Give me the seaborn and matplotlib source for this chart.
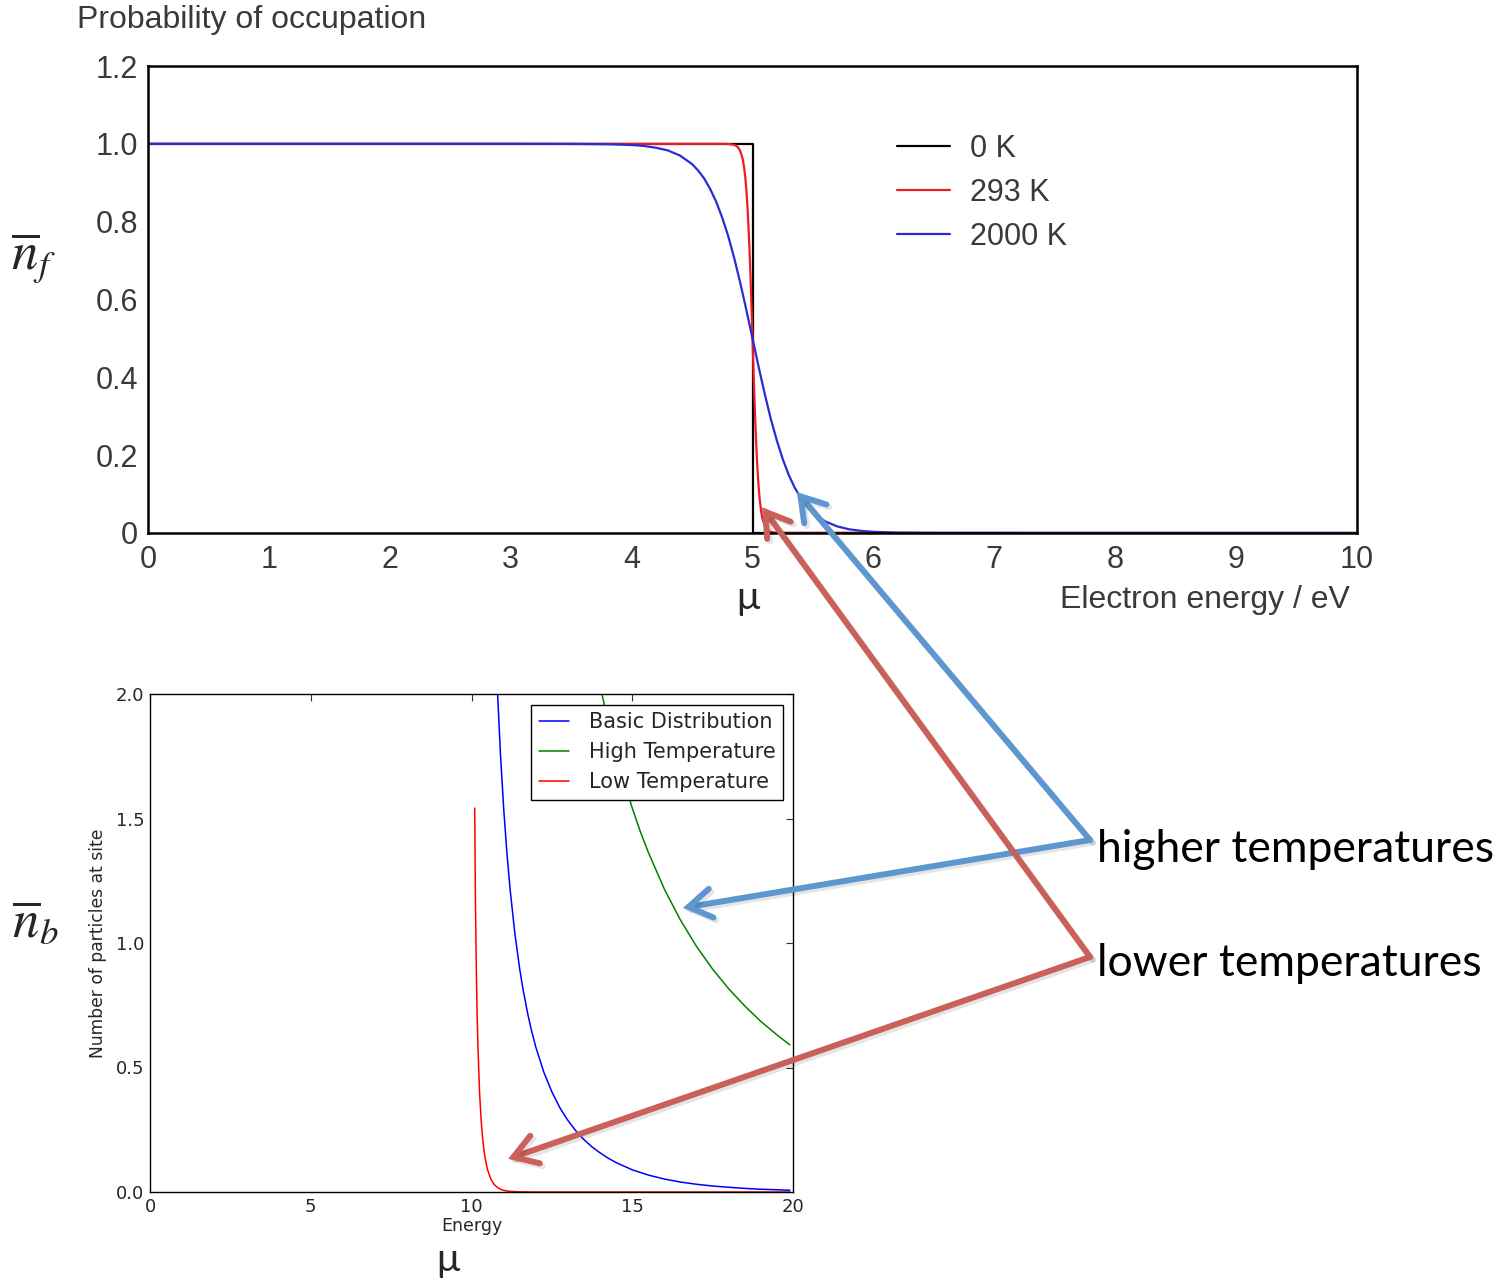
import seaborn as sns
import matplotlib.pyplot as plt
import matplotlib.patheffects as pe

# ---------------------------------------------------------------------------
# Data
# ---------------------------------------------------------------------------
# top panel: Fermi-Dirac occupation vs electron energy (eV)
energy_0k = [0, 5, 5, 10]
occ_0k = [1, 1, 0, 0]

energy_293k = [0, 4.75, 4.8, 4.85, 4.88, 4.9, 4.92, 4.93, 4.94, 4.95, 4.96,
               4.97, 4.975, 4.98, 4.985, 4.99, 4.995, 5.0, 5.005, 5.01, 5.015,
               5.02, 5.025, 5.03, 5.04, 5.05, 5.06, 5.07, 5.08, 5.1, 5.12,
               5.15, 5.2, 10]
occ_293k = [1, 0.99995, 0.9996, 0.9974, 0.9914, 0.981, 0.9596, 0.941, 0.915,
            0.879, 0.830, 0.766, 0.729, 0.688, 0.644, 0.598, 0.549, 0.5, 0.451,
            0.402, 0.356, 0.312, 0.271, 0.234, 0.170, 0.121, 0.085, 0.059,
            0.040, 0.019, 0.0086, 0.0026, 0.0004, 0]

energy_2000k = [0, 3.0, 3.5, 3.8, 4.0, 4.1, 4.2, 4.3, 4.4, 4.5, 4.55, 4.6, 4.65,
                4.7, 4.75, 4.8, 4.85, 4.9, 4.95, 5.0, 5.05, 5.1, 5.15, 5.2,
                5.25, 5.3, 5.35, 5.4, 5.45, 5.5, 5.6, 5.7, 5.8, 5.9, 6.0, 6.2,
                6.5, 10]
occ_2000k = [1, 0.99999, 0.9998, 0.999, 0.997, 0.9946, 0.990, 0.9831, 0.970,
             0.948, 0.9316, 0.911, 0.884, 0.851, 0.810, 0.762, 0.705, 0.641,
             0.572, 0.5, 0.428, 0.359, 0.295, 0.239, 0.190, 0.149, 0.116,
             0.090, 0.068, 0.052, 0.030, 0.017, 0.0095, 0.0054, 0.003, 0.001,
             0.0002, 0]

top_labels = ['0 K', '293 K', '2000 K']

# bottom panel: Bose-Einstein occupation vs energy
energy_basic = [10.6, 10.7, 10.8, 10.9, 11.0, 11.1, 11.2, 11.35, 11.5, 11.6,
                11.75, 11.85, 12, 12.25, 12.5, 12.75, 13, 13.25, 13.5, 13.75,
                14, 14.25, 14.5, 15, 15.5, 15.75, 16, 16.25, 16.5, 17, 17.5,
                18, 18.5, 19, 19.9]
n_basic = [2.858, 2.386, 2.033, 1.760, 1.542, 1.364, 1.216, 1.037, 0.895,
           0.816, 0.715, 0.657, 0.582, 0.481, 0.402, 0.338, 0.287, 0.245,
           0.210, 0.181, 0.157, 0.136, 0.118, 0.089, 0.068, 0.060, 0.052,
           0.046, 0.040, 0.031, 0.024, 0.019, 0.0145, 0.011, 0.0072]

energy_high = [13.8, 14.0, 14.25, 14.5, 14.75, 15, 15.25, 15.5, 16, 16.5, 17,
               17.5, 18, 18.5, 19, 19.5, 19.9]
n_high = [2.163, 2.033, 1.888, 1.759, 1.645, 1.542, 1.448, 1.364, 1.216, 1.092,
          0.986, 0.895, 0.816, 0.747, 0.685, 0.631, 0.591]

energy_low = [10.1, 10.11, 10.12, 10.13, 10.15, 10.175, 10.2, 10.25, 10.3,
              10.35, 10.4, 10.45, 10.5, 10.6, 10.7, 10.8, 10.9, 11.0, 11.1,
              11.2, 11.5, 12, 19.9]
n_low = [1.542, 1.364, 1.199, 1.092, 0.895, 0.715, 0.582, 0.402, 0.287, 0.210,
         0.157, 0.118, 0.089, 0.052, 0.031, 0.019, 0.011, 0.0068, 0.0041,
         0.0025, 0.0006, 0.00005, 0]

bottom_labels = ['Basic Distribution', 'High Temperature', 'Low Temperature']

# ---------------------------------------------------------------------------
sns.set_style('white')
plt.rcParams['font.family'] = ['Liberation Sans', 'DejaVu Sans']
plt.rcParams['mathtext.fontset'] = 'stix'

W, H = 1508, 1282
fig = plt.figure(figsize=(W / 100, H / 100), dpi=100)
fig.patch.set_facecolor('white')

gray = '#3a3a3a'
top_fs = 22

# ---------------------------------------------------------------------------
# Top panel
# ---------------------------------------------------------------------------
ax1 = fig.add_axes([148 / W, 1 - 533 / H, 1209 / W, 467 / H])
sns.lineplot(x=energy_0k, y=occ_0k, ax=ax1, color='black', lw=1.6,
             label=top_labels[0], estimator=None, sort=False)
sns.lineplot(x=energy_293k, y=occ_293k, ax=ax1, color='#ee1c24', lw=1.6,
             label=top_labels[1], estimator=None, sort=False)
sns.lineplot(x=energy_2000k, y=occ_2000k, ax=ax1, color='#2b2bd4', lw=1.6,
             label=top_labels[2], estimator=None, sort=False)

ax1.set_xlim(0, 10)
ax1.set_ylim(0, 1.2)
ax1.set_xticks(range(0, 11))
ax1.set_yticks([0, 0.2, 0.4, 0.6, 0.8, 1.0, 1.2])
ax1.set_yticklabels(['0', '0.2', '0.4', '0.6', '0.8', '1.0', '1.2'])
ax1.tick_params(length=0, labelsize=top_fs, labelcolor=gray)
ax1.tick_params(axis='x', pad=9)
ax1.tick_params(axis='y', pad=7)
for sp in ax1.spines.values():
    sp.set_color('black')
    sp.set_linewidth(1.8)

ax1.legend(loc='upper left', bbox_to_anchor=(897 / W, 1 - 134 / H),
           bbox_transform=fig.transFigure, frameon=False, fontsize=top_fs,
           handlelength=1.73, handletextpad=0.65, labelspacing=0.46,
           borderpad=0, borderaxespad=0, labelcolor=gray)

fig.text(77 / W, 1 - 20 / H, 'Probability of occupation', fontsize=23,
         color=gray, ha='left', va='center')
fig.text(1350 / W, 1 - 600 / H, 'Electron energy / eV', fontsize=23,
         color=gray, ha='right', va='center')

# ---------------------------------------------------------------------------
# Bottom panel
# ---------------------------------------------------------------------------
ax2 = fig.add_axes([150 / W, 1 - 1192 / H, 643 / W, 498 / H])
sns.lineplot(x=energy_basic, y=n_basic, ax=ax2, color='blue', lw=1.1,
             label=bottom_labels[0], estimator=None, sort=False)
sns.lineplot(x=energy_high, y=n_high, ax=ax2, color='green', lw=1.1,
             label=bottom_labels[1], estimator=None, sort=False)
sns.lineplot(x=energy_low, y=n_low, ax=ax2, color='red', lw=1.1,
             label=bottom_labels[2], estimator=None, sort=False)

ax2.set_xlim(0, 20)
ax2.set_ylim(0, 2.0)
ax2.set_xticks([0, 5, 10, 15, 20])
ax2.set_yticks([0, 0.5, 1.0, 1.5, 2.0])
ax2.set_yticklabels(['0.0', '0.5', '1.0', '1.5', '2.0'])
ax2.tick_params(direction='in', length=5, width=0.8, top=True, right=True,
                labelsize=13, pad=4, color='#333333')
for t in ax2.get_xticklabels() + ax2.get_yticklabels():
    t.set_family('DejaVu Sans')
for sp in ax2.spines.values():
    sp.set_color('black')
    sp.set_linewidth(1.0)
ax2.set_xlabel('Energy', fontsize=12.5, family='DejaVu Sans', labelpad=1)
ax2.set_ylabel('Number of particles at site', fontsize=12.3,
               family='DejaVu Sans', labelpad=6)

leg = ax2.legend(loc='upper right', bbox_to_anchor=(783 / W, 1 - 705 / H),
                 bbox_transform=fig.transFigure,
                 prop={'family': 'DejaVu Sans', 'size': 15},
                 handlelength=1.45, handletextpad=0.96, labelspacing=0.48,
                 borderpad=0.35, borderaxespad=0, fancybox=False,
                 framealpha=1)
leg.get_frame().set_edgecolor('black')
leg.get_frame().set_linewidth(1.0)

# ---------------------------------------------------------------------------
# Annotations
# ---------------------------------------------------------------------------
serif = dict(ha='center', va='center', fontsize=38)
fig.text(33 / W, 1 - 258 / H, r'$\overline{n}_f$', **serif)
fig.text(35 / W, 1 - 923 / H, r'$\overline{n}_b$', **serif)

mu = dict(ha='center', va='center', fontsize=28, family=['Lato', 'DejaVu Sans'])
fig.text(748 / W, 1 - 598 / H, 'μ', **mu)
fig.text(448 / W, 1 - 1260 / H, 'μ', **mu)

note = dict(ha='left', va='center', fontsize=32, color='black',
            family=['Lato', 'DejaVu Sans'])
fig.text(1097 / W, 1 - 850 / H, 'higher temperatures', **note)
fig.text(1097 / W, 1 - 964 / H, 'lower temperatures', **note)

blue_arrow = '#5e96cf'
red_arrow = '#c9605a'
shadow = [pe.SimpleLineShadow(offset=(2, -2), alpha=0.1), pe.Normal()]


def arrow(target, tx, ty, color, coords):
    a = ax2.annotate('', xy=target, xycoords=coords,
                     xytext=(tx, H - ty), textcoords='figure pixels',
                     arrowprops=dict(arrowstyle='->,head_length=0.55,head_width=0.35',
                                     color=color, lw=4.3, mutation_scale=30,
                                     shrinkA=0, shrinkB=0, joinstyle='miter'),
                     annotation_clip=False, zorder=10)
    a.arrow_patch.set_path_effects(shadow)


arrow((5.368, 0.105), 1090, 840, blue_arrow, ax1.transData)
arrow((16.58, 1.141), 1090, 840, blue_arrow, ax2.transData)
arrow((5.08, 0.066), 1090, 957, red_arrow, ax1.transData)
arrow((11.14, 0.133), 1090, 957, red_arrow, ax2.transData)

fig.savefig('out.png', dpi=100, facecolor='white')
